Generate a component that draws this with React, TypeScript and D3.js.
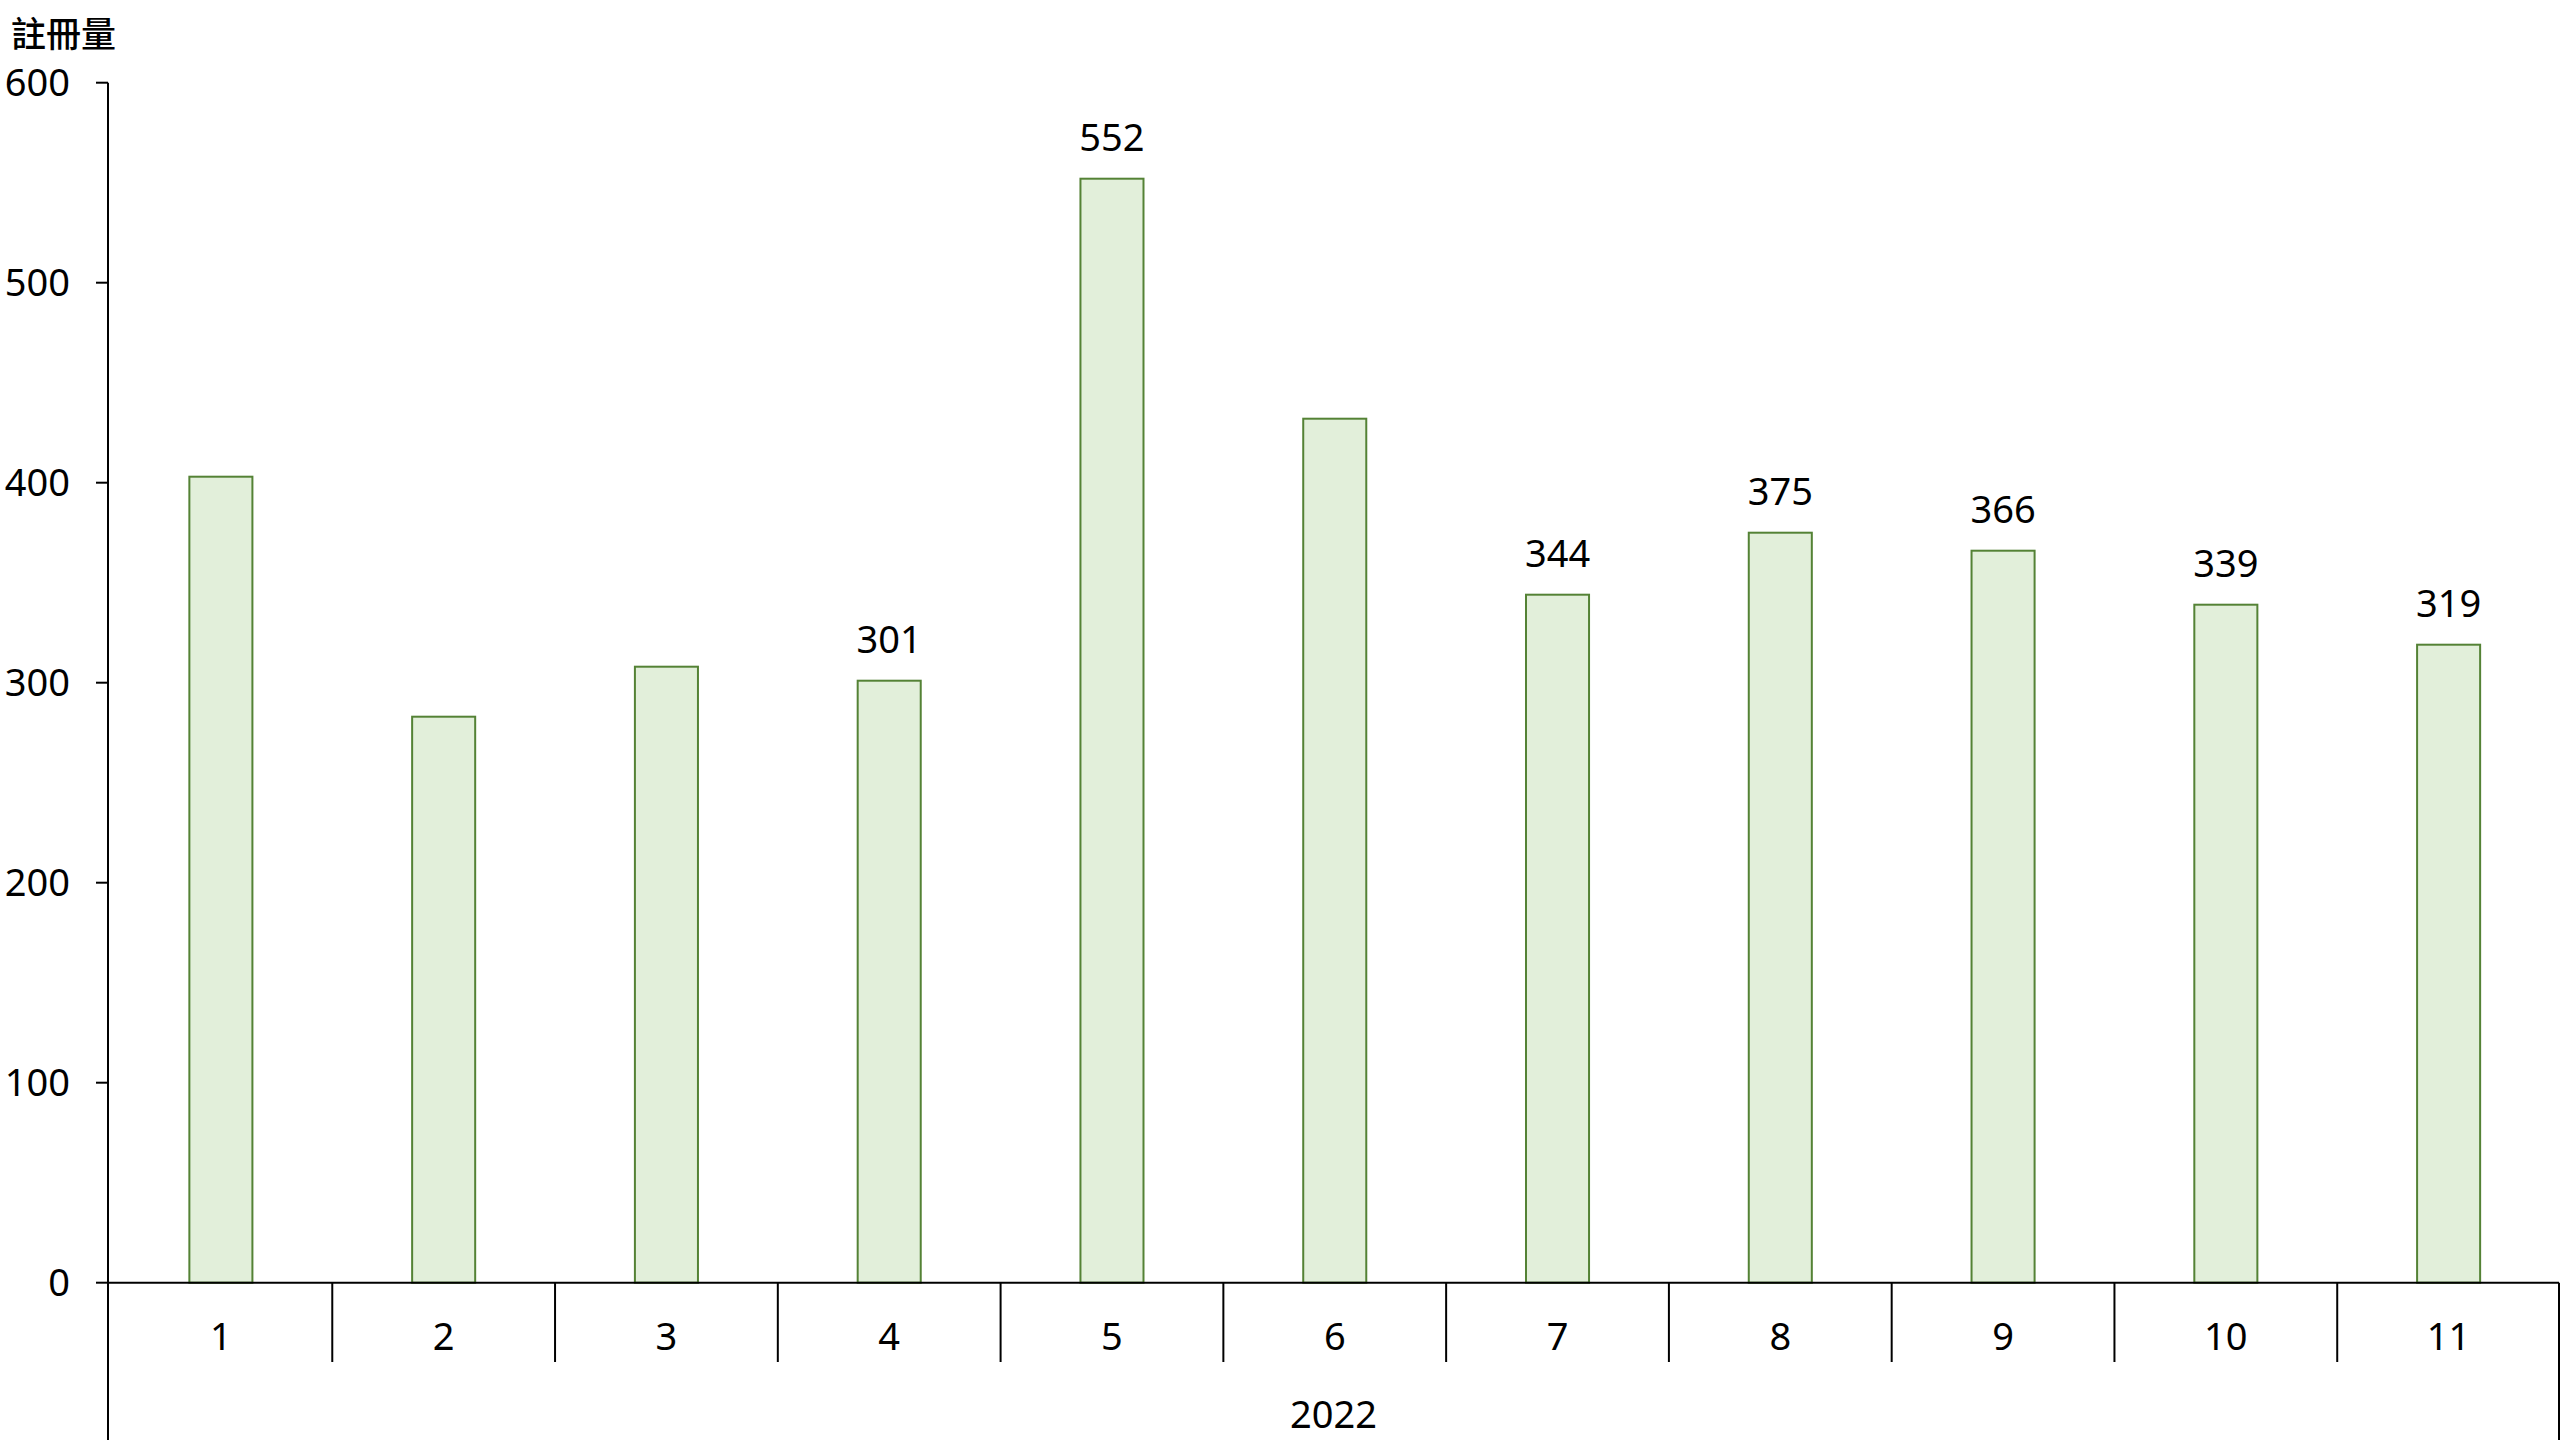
import React from 'react';
import * as d3 from 'd3';

const months = ['1', '2', '3', '4', '5', '6', '7', '8', '9', '10', '11'];
const registrations = [403, 283, 308, 301, 552, 432, 344, 375, 366, 339, 319];
// only these bars carry a value label in the original
const labelled = [false, false, false, true, true, false, true, true, true, true, true];
const yTicks = [0, 100, 200, 300, 400, 500, 600];
const yearLabel = '2022';
const yTitle = '註冊量';

const W = 2560;
const H = 1440;
const LEFT = 108;
const RIGHT = 2559;
const TOP = 82.7;
const BASE = 1282.7;

const barGreen = '#548235';
const barFill = '#e2efda';
const font = '"Noto Sans", "Noto Sans CJK TC", sans-serif';

export default function App() {
  const x = d3.scaleBand<string>().domain(months).range([LEFT + 1.5, RIGHT + 1]).padding(0);
  const y = d3.scaleLinear().domain([0, 600]).range([BASE, TOP]);
  const barW = x.bandwidth() * 0.283;

  return (
    <svg
      width={W}
      height={H}
      style={{ position: 'absolute', left: 0, top: 0, display: 'block', background: '#fff' }}
      fontFamily={font}
    >
      {/* y title */}
      <text x={11} y={47} fontSize={35} fontWeight={500} fontFamily='"Noto Sans CJK TC", sans-serif' fill="#000">
        {yTitle}
      </text>

      {/* bars */}
      {registrations.map((v, i) => {
        const cx = (x(months[i]) as number) + x.bandwidth() / 2;
        return (
          <g key={i}>
            <rect
              x={cx - barW / 2}
              y={y(v)}
              width={barW}
              height={BASE - y(v)}
              fill={barFill}
              stroke={barGreen}
              strokeWidth={2}
            />
            {labelled[i] && (
              <text x={cx} y={y(v) - 28} textAnchor="middle" fontSize={38} fill="#000">
                {v}
              </text>
            )}
          </g>
        );
      })}

      {/* y axis */}
      <line x1={LEFT} x2={LEFT} y1={TOP} y2={H} stroke="#000" strokeWidth={2} />
      {yTicks.map((t) => (
        <g key={t}>
          <line x1={LEFT - 12} x2={LEFT} y1={y(t)} y2={y(t)} stroke="#000" strokeWidth={2} />
          <text x={70} y={y(t)} dy="0.35em" textAnchor="end" fontSize={38} fill="#000">
            {t}
          </text>
        </g>
      ))}

      {/* x axis */}
      <line x1={LEFT} x2={RIGHT} y1={BASE} y2={BASE} stroke="#000" strokeWidth={2} />
      <line x1={RIGHT} x2={RIGHT} y1={BASE} y2={H} stroke="#000" strokeWidth={2} />
      {months.slice(1).map((m) => (
        <line
          key={m}
          x1={x(m) as number}
          x2={x(m) as number}
          y1={BASE}
          y2={1362}
          stroke="#000"
          strokeWidth={2}
        />
      ))}
      {months.map((m) => (
        <text
          key={m}
          x={(x(m) as number) + x.bandwidth() / 2}
          y={1350}
          textAnchor="middle"
          fontSize={38}
          fill="#000"
        >
          {m}
        </text>
      ))}
      <text x={(LEFT + RIGHT) / 2} y={1428} textAnchor="middle" fontSize={38} fill="#000">
        {yearLabel}
      </text>
    </svg>
  );
}
